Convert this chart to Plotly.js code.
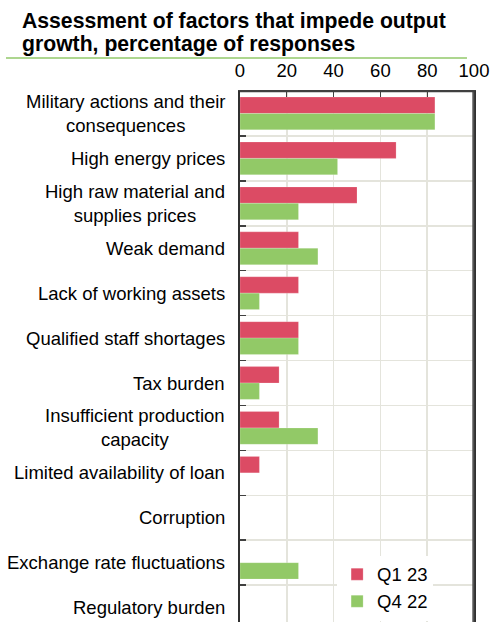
<!DOCTYPE html>
<html>
<head>
<meta charset="utf-8">
<script src="https://cdn.plot.ly/plotly-3.0.1.min.js"></script>
<style>html,body{margin:0;padding:0;background:#fff;}#chart{width:490px;height:622px;}</style>
</head>
<body>
<div id="chart"></div>
<script>
const categories = [
  "Military actions and their<br>consequences",
  "High energy prices",
  "High raw material and<br>supplies prices",
  "Weak demand",
  "Lack of working assets",
  "Qualified staff shortages",
  "Tax burden",
  "Insufficient production<br>capacity",
  "Limited availability of loan",
  "Corruption",
  "Exchange rate fluctuations",
  "Regulatory burden"
];
const q1_23 = [83.3, 66.7, 50.0, 25.0, 25.0, 25.0, 16.7, 16.7, 8.3, 0, 0, 0];
const q4_22 = [83.3, 41.7, 25.0, 33.3, 8.3, 25.0, 8.3, 33.3, 0, 0, 25.0, 0];
const seriesNames = ["Q1 23", "Q4 22"];
const xTicks = [0, 20, 40, 60, 80, 100];
const titleLines = ["Assessment of factors that impede output", "growth, percentage of responses"];

const FONT = "Liberation Sans, Arial, sans-serif";
const RED = "#dc4b64";
const GREEN = "#92c967";

const traces = [
  {type: "bar", orientation: "h", name: seriesNames[0], x: q1_23, y: categories,
   marker: {color: RED, line: {color: "rgba(255,255,255,0.4)", width: 0.5}}},
  {type: "bar", orientation: "h", name: seriesNames[1], x: q4_22, y: categories,
   marker: {color: GREEN, line: {color: "rgba(255,255,255,0.4)", width: 0.5}}}
];

const annotations = categories.map(c => ({
  xref: "paper", yref: "y", x: -0.055, y: c, xanchor: "right", yanchor: "middle",
  text: c, align: "center", showarrow: false,
  font: {family: FONT, size: 18.5, color: "#000"}
}));
titleLines.forEach((t, i) => annotations.push({
  xref: "paper", yref: "paper", x: -0.94, y: [1.131, 1.0885][i],
  xanchor: "left", yanchor: "middle", showarrow: false,
  text: "<b>" + t + "</b>", align: "left",
  font: {family: FONT, size: 21.2, color: "#000"}
}));

const layout = {
  width: 490, height: 622,
  margin: {l: 240, r: 16, t: 91, b: 0, pad: 0},
  paper_bgcolor: "#fff", plot_bgcolor: "#fff",
  barmode: "group", bargap: 0.27, bargroupgap: 0,
  xaxis: {
    side: "top", range: [0, 100], tickvals: xTicks, ticktext: xTicks.map(String),
    showgrid: true, gridcolor: "#e4e4dc", gridwidth: 1.5,
    showline: true, linecolor: "#404040", linewidth: 1.5,
    ticks: "inside", ticklen: 6, tickcolor: "#404040", tickwidth: 1.2,
    ticklabelstandoff: 5, ticklabeloverflow: "allow",
    tickfont: {family: FONT, size: 18.5, color: "#000"},
    zeroline: false, fixedrange: true
  },
  yaxis: {
    type: "category", categoryorder: "array", categoryarray: categories,
    range: [11.32, -0.5], autorange: false,
    tickson: "boundaries", ticks: "inside", ticklen: 6, tickcolor: "#404040", tickwidth: 1.5,
    showticklabels: false,
    showgrid: true, gridcolor: "#e4e4dc", gridwidth: 1.5,
    showline: true, linecolor: "#303030", linewidth: 2, mirror: true,
    zeroline: false, fixedrange: true
  },
  showlegend: true,
  legend: {
    x: 0.415, xanchor: "left", y: 0.125, yanchor: "top",
    bgcolor: "#fff", borderwidth: 0,
    font: {family: FONT, size: 18.5, color: "#000"},
    traceorder: "normal", itemwidth: 30, tracegroupgap: 0
  },
  shapes: [
    {type: "line", xref: "paper", yref: "paper",
     x0: -1.0, x1: 0.97, y0: 1.062, y1: 1.062,
     line: {color: "#92c96a", width: 1.5}},
    {type: "line", xref: "paper", yref: "paper", layer: "above",
     x0: 0.997, x1: 0.997, y0: 0, y1: 1,
     line: {color: "#555555", width: 2}},
    {type: "line", xref: "paper", yref: "paper", layer: "above",
     x0: 0, x1: 1, y0: 0.999, y1: 0.999,
     line: {color: "#404040", width: 1.5}}
  ],
  annotations: annotations
};

Plotly.newPlot("chart", traces, layout, {displayModeBar: false, staticPlot: true});
</script>
</body>
</html>
